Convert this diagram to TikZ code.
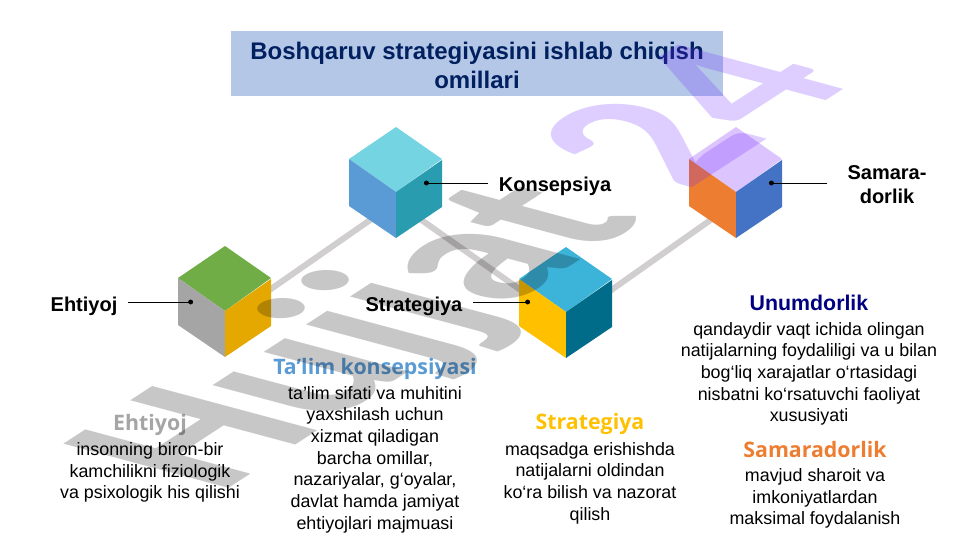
\documentclass[tikz,border=0pt]{standalone}
\usepackage{fontspec}
\setmainfont{Liberation Sans}
\newfontfamily\headfont{Open Sans}
\newfontfamily\markfont{Carlito}
\usetikzlibrary{arrows.meta}

\definecolor{titlefill}{HTML}{B4C7E7}
\definecolor{titleink}{HTML}{002060}
\definecolor{linkgray}{HTML}{D0CECE}
\definecolor{wmpurple}{HTML}{6A20FF}
\definecolor{navyhead}{HTML}{000080}

% One cube: centre vertex, then colours of the top, left and right faces
\newcommand{\cubeat}[5]{
  \fill [color=#3] (#1,#2) ++(0,-65) -- ++(46,32) -- ++(-46,33) -- ++(-47,-33) -- cycle;
  \fill [color=#4] (#1,#2) -- ++(-47,-33) -- ++(0,47) -- ++(47,32) -- cycle;
  \fill [color=#5] (#1,#2) -- ++(46,-32) -- ++(0,47) -- ++(-46,31) -- cycle;
}

\tikzset{
  link/.style={draw=linkgray,line width=4.5pt},
  lead/.style={-{Circle[length=3.6pt]},line width=0.5pt},
  tag/.style={font=\fontsize{15}{18}\selectfont\bfseries,align=center,inner ysep=0pt,inner xsep=8pt},
  body/.style={font=\fontsize{13.4}{16.25}\selectfont,align=center,inner sep=0pt},
  head/.style={font=\fontsize{16}{18}\selectfont\headfont\bfseries,inner sep=0pt},
}

\begin{document}
\begin{tikzpicture}[x=0.75pt,y=-0.75pt]

  \useasboundingbox (0,0) rectangle (961,540);

  % Where the cubes meet their links
  \coordinate (hubneed) at (225,321);
  \coordinate (hubconcept) at (396,202);
  \coordinate (hubstrategy) at (566,322);
  \coordinate (hubresult) at (736,202);

  % Where the labels point
  \coordinate (dotneed) at (193,302);
  \coordinate (dotconcept) at (424,183);
  \coordinate (dotstrategy) at (530,302);
  \coordinate (dotresult) at (769,183);

  % Title
  \node (title) [fill=titlefill,minimum width=369pt,minimum height=48.75pt,inner sep=0pt,
    font=\fontsize{18}{22}\selectfont\bfseries,text=titleink,align=center] at (477,63.5)
    {\rule{0pt}{15.5pt}Boshqaruv strategiyasini ishlab chiqish\\omillari};

  % Links go under the cubes
  \draw [link] (hubneed) -- (hubconcept);
  \draw [link] (hubconcept) -- (hubstrategy);
  \draw [link] (hubstrategy) -- (hubresult);

  % Cubes
  \cubeat{225}{311}{{rgb,255:red,112;green,173;blue,71}}{{rgb,255:red,165;green,165;blue,165}}{{rgb,255:red,229;green,168;blue,0}}
  \cubeat{396}{192}{{rgb,255:red,117;green,212;blue,226}}{{rgb,255:red,91;green,155;blue,213}}{{rgb,255:red,42;green,156;blue,175}}
  \cubeat{566}{312}{{rgb,255:red,60;green,180;blue,218}}{{rgb,255:red,255;green,192;blue,0}}{{rgb,255:red,0;green,108;blue,137}}
  \cubeat{736}{192}{{rgb,255:red,220;green,196;blue,255}}{{rgb,255:red,237;green,125;blue,49}}{{rgb,255:red,68;green,114;blue,196}}

  % Labels beside the cubes
  \node (needtag) [tag] at (84,306) {Ehtiyoj};
  \node (concepttag) [tag] at (555,186.5) {Konsepsiya};
  \node (strategytag) [tag] at (414,306) {Strategiya};
  \node (resulttag) [tag,inner xsep=15pt] at (887,184.5) {Samara-\\dorlik};

  \draw [lead] (needtag.east |- dotneed) -- (dotneed);
  \draw [lead] (concepttag.west |- dotconcept) -- (dotconcept);
  \draw [lead] (strategytag.east |- dotstrategy) -- (dotstrategy);
  \draw [lead] (resulttag.west |- dotresult) -- (dotresult);

  % Headings and their text
  \node (yieldhead) [head,text=navyhead,font=\fontsize{16}{18}\selectfont\bfseries] at (809,303) {Unumdorlik};
  \node (yieldbody) [body] at (809,374) {qandaydir vaqt ichida olingan\\natijalarning foydaliligi va u bilan\\bog‘liq xarajatlar o‘rtasidagi\\nisbatni ko‘rsatuvchi faoliyat\\xususiyati};

  \node (resulthead) [head,text={rgb,255:red,237;green,125;blue,49}] at (815,449) {Samaradorlik};
  \node (resultbody) [body] at (815,498.5) {mavjud sharoit va\\imkoniyatlardan\\maksimal foydalanish};

  \node (strategyhead) [head,text={rgb,255:red,255;green,192;blue,0}] at (590,424) {Strategiya};
  \node (strategybody) [body] at (590,483) {maqsadga erishishda\\natijalarni oldindan\\ko‘ra bilish va nazorat\\qilish};

  \node (concepthead) [head,text={rgb,255:red,91;green,155;blue,213}] at (375,369) {Ta’lim konsepsiyasi};
  \node (conceptbody) [body] at (375,459.5) {ta’lim sifati va muhitini\\yaxshilash uchun\\xizmat qiladigan\\barcha omillar,\\nazariyalar, g‘oyalar,\\davlat hamda jamiyat\\ehtiyojlari majmuasi};

  \node (needhead) [head,text={rgb,255:red,165;green,165;blue,165}] at (150,425) {Ehtiyoj};
  \node (needbody) [body] at (150,472.5) {insonning biron-bir\\kamchilikni fiziologik\\va psixologik his qilishi};

  % Watermark on top of everything, slanted along its baseline
  \begin{scope}[shift={(219,495)},cm={1.28,0.831,-1.91,0.512,(0,0)}]
    \node (mark) [transform shape,anchor=base west,inner sep=0pt,text=black,text opacity=0.22,
      font=\fontsize{100}{100}\selectfont\markfont\bfseries] at (0,0) {Hujjat \textcolor{wmpurple}{24}};
  \end{scope}

\end{tikzpicture}
\end{document}
